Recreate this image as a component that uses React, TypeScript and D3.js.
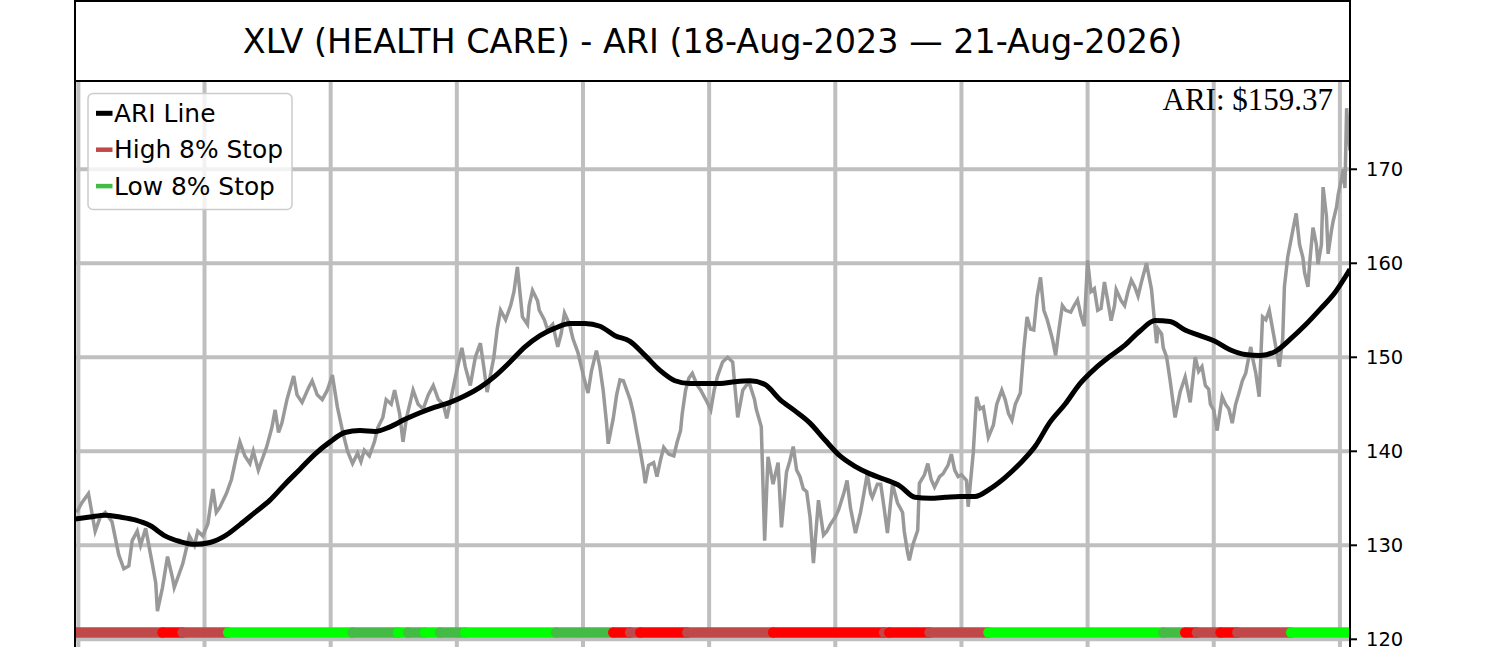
import * as d3 from 'd3';

// ---- data ----
const TITLE = 'XLV (HEALTH CARE) - ARI (18-Aug-2023 — 21-Aug-2026)';
const LAST_DAY = 758; // trading-day index of the last session
const ARI_LAST = 159.37;

const yTicks = [120, 130, 140, 150, 160, 170];
const xGridDays = [2, 77, 152, 227, 302, 377, 452, 527, 602, 677, 752];

// close prices (grey line): session index / value
const closeDays = [
  1, 4, 8, 12, 15, 18, 22, 26, 29, 32, 34, 37, 39, 42, 46, 48, 49, 52, 55, 58, 59, 64, 66, 68, 71, 73, 76, 79,
  82, 84, 86, 90, 93, 96, 98, 101, 104, 106, 109, 112, 114, 117, 119, 121, 123, 126, 130, 132, 135, 139, 141,
  144, 147, 150, 153, 156, 159, 162, 165, 168, 170, 172, 175, 178, 180, 183, 185, 188, 190, 193, 195, 197,
  201, 204, 207, 210, 213, 216, 219, 221, 224, 227, 230, 232, 235, 238, 241, 243, 245, 249, 251, 253, 256,
  259, 261, 263, 266, 269, 270, 272, 275, 276, 279, 281, 284, 287, 289, 291, 294, 296, 299, 301, 303, 305,
  307, 310, 312, 314, 316, 317, 320, 322, 324, 326, 328, 330, 332, 334, 336, 338, 339, 341, 344, 346, 348,
  350, 353, 356, 358, 360, 361, 363, 365, 367, 370, 372, 375, 378, 380, 382, 385, 388, 391, 394, 397, 399,
  401, 404, 405, 408, 410, 412, 415, 418, 420, 423, 425, 427, 429, 431, 433, 435, 437, 439, 442, 445, 447,
  449, 452, 454, 457, 459, 461, 464, 467, 469, 471, 473, 474, 477, 479, 481, 483, 486, 489, 492, 493, 495,
  496, 498, 501, 502, 505, 507, 509, 511, 514, 516, 519, 521, 523, 525, 527, 530, 531, 534, 536, 538, 540,
  543, 546, 548, 551, 553, 555, 557, 559, 562, 564, 566, 568, 570, 572, 574, 576, 578, 581, 583, 585, 587,
  589, 592, 594, 596, 598, 600, 602, 604, 606, 608, 610, 612, 614, 616, 618, 619, 622, 624, 626, 628, 630,
  632, 634, 637, 640, 643, 644, 646, 647, 649, 651, 654, 657, 660, 663, 666, 668, 670, 672, 674, 675, 677,
  679, 682, 684, 686, 688, 690, 692, 694, 696, 699, 700, 702, 704, 706, 708, 710, 712, 714, 716, 718, 719,
  721, 724, 726, 728, 730, 731, 733, 734, 736, 738, 739, 741, 742, 744, 745, 747, 748, 750, 751, 753, 754,
  755, 756, 757, 758,
];
const closeValues = [
  133.5, 134.5, 135.5, 131.5, 133, 133.5, 132.5, 129, 127.5, 127.8, 130.5, 131.5, 130, 131.8, 128, 126, 123,
  125.5, 128.8, 126.5, 125.5, 128, 129.5, 131, 130, 131.5, 131, 132.3, 136, 133.5, 134, 135.5, 137, 139.5,
  141, 139.5, 138.7, 140, 138, 139.5, 140.5, 142.5, 144.4, 142, 143, 145.5, 148, 146, 145.2, 146.8, 147.5,
  146, 145.5, 146.5, 148.1, 144.7, 142.2, 140, 138.7, 139.8, 138.9, 140.1, 139.5, 141, 142.5, 143.6, 145.5,
  145, 146.5, 144, 141, 143.5, 146.5, 145, 144.5, 146, 147, 145.5, 145, 143.5, 146, 148.6, 151, 149, 147,
  150, 151.5, 149, 146.3, 150, 153, 155, 154, 155.5, 157, 159.6, 154.3, 153.5, 155.5, 157.1, 156, 155, 154,
  152.9, 153.5, 151.1, 152.5, 154.7, 153.5, 152, 150.5, 149, 147.5, 146.2, 148.5, 150.7, 149, 146.5, 143,
  140.8, 143.5, 146, 147.6, 147.5, 146.5, 145.5, 144, 142, 140.1, 138, 136.6, 138.5, 138.8, 137.3, 139,
  140.4, 139.7, 139.5, 141, 142.2, 144, 146.5, 147.8, 148.3, 147, 146.5, 145.5, 144.4, 146.5, 148, 149.5,
  150, 149.5, 143.6, 146.5, 147, 147.2, 145.5, 144.5, 142.6, 130.5, 139.4, 136.5, 138.8, 131.9, 137.8, 139,
  140.5, 138, 137.3, 136, 135.7, 133, 128.1, 134.8, 131.1, 131.5, 132.2, 133, 133.8, 135.5, 136.9, 134,
  131.3, 133.5, 135.5, 137.6, 135.5, 135.1, 136.5, 136.5, 134, 131.3, 136.5, 134.5, 133.5, 131.5, 129.2,
  128.4, 130, 131.6, 136.6, 137.5, 138.7, 137, 136.2, 137.3, 137.6, 138.5, 139.7, 138, 137.3, 137.5, 136.9,
  134.1, 139.8, 145.8, 144.5, 144.7, 141.5, 142.8, 145, 146.5, 145.5, 144, 143.3, 145, 146.2, 150.7, 154.3,
  153, 152.9, 156.5, 158.5, 155, 154, 152, 150.2, 153, 155.5, 155, 154.8, 155.5, 156.1, 154.5, 153.3, 160.3,
  157, 157.3, 155, 155.2, 158, 156, 153.9, 155.5, 157.2, 156, 155.5, 157, 158.2, 157.5, 156.5, 158, 160,
  157.2, 151.5, 153, 152.5, 151, 150, 147.6, 143.6, 146.3, 147.9, 145.2, 150, 148.5, 149, 147, 146.6, 145,
  144.4, 142.2, 145.8, 145, 144.5, 143, 145, 146.2, 147.5, 148.3, 151.1, 150, 148.3, 145.8, 154.3, 154, 155,
  153, 151, 149, 152, 157.5, 160.7, 163.5, 165.3, 162, 160.6, 159, 157.5, 160, 163.8, 162, 159.9, 162, 168.1,
  165, 161, 163.5, 164.5, 166, 167.3, 169, 170, 168, 176.5, 174, 172,
];

// ARI line (black), evenly spaced from first to last session
const ariValues = [
  132.8, 133.0, 133.2, 133.0, 132.7, 132.1, 131.0, 130.4, 130.1, 130.3, 131.0, 132.2, 133.5, 134.8, 136.5,
  138.1, 139.7, 141.0, 142.0, 142.2, 142.1, 142.6, 143.4, 144.1, 144.7, 145.2, 145.9, 146.8, 148.0, 149.5,
  151.1, 152.3, 153.1, 153.6, 153.6, 153.3, 152.3, 151.7, 150.2, 148.6, 147.5, 147.2, 147.2, 147.2, 147.4,
  147.5, 147.1, 145.5, 144.3, 143.0, 141.2, 139.5, 138.4, 137.6, 137.0, 136.3, 135.1, 135.0, 135.1, 135.2,
  135.2, 136.0, 137.2, 138.7, 140.5, 143.1, 145.0, 147.2, 148.8, 150.1, 151.3, 152.8, 153.9, 153.8, 152.9,
  152.3, 151.7, 150.8, 150.3, 150.2, 150.6, 151.9, 153.4, 155.1, 156.9, ARI_LAST,
];

// stop-state strip along the bottom: run start session / state
const bandStarts = [0, 52, 64, 91, 165, 192, 198, 208, 217, 232, 286, 320, 330, 336, 364, 415, 481, 484, 508, 543, 647, 660, 667, 681, 691, 723];
const bandStates = [
  'high', 'highHit', 'high', 'lowHit', 'low', 'lowHit', 'low', 'lowHit', 'low', 'lowHit', 'low', 'highHit', 'high',
  'highHit', 'high', 'highHit', 'high', 'highHit', 'high', 'lowHit', 'low', 'highHit', 'high', 'highHit', 'high', 'lowHit',
];
const BAND_LEVEL = 120.72;

const legendLabels = ['ARI Line', 'High 8% Stop', 'Low 8% Stop'];

const stateColor: Record<string, string> = {
  high: '#c04848',
  highHit: '#ff0000',
  low: '#44bb44',
  lowHit: '#00ff00',
};
const legendColors = ['#000000', stateColor.high, stateColor.low];

const W = 1500;
const H = 647;
const plot = { left: 75, right: 1350, top: 81, bottom: 680 };
const SANS = '"DejaVu Sans", sans-serif';

export default function App() {
  const x = d3.scaleLinear().domain([0, LAST_DAY]).range([plot.left, plot.right]);
  const y = d3.scaleLinear().domain([115.67, 179.39]).range([plot.bottom, plot.top]);

  const closeLine = d3
    .line<number>()
    .x((_, i) => x(closeDays[i]))
    .y((d) => y(d));

  const ariStep = LAST_DAY / (ariValues.length - 1);
  const ariLine = d3
    .line<number>()
    .x((_, i) => x(i * ariStep))
    .y((d) => y(d))
    .curve(d3.curveMonotoneX);

  const visibleBottom = H;

  return (
    <svg width={W} height={H} style={{ position: 'absolute', left: 0, top: 0, background: '#fff' }}>
      <defs>
        <clipPath id="plotClip">
          <rect x={plot.left} y={plot.top} width={plot.right - plot.left} height={plot.bottom - plot.top} />
        </clipPath>
      </defs>

      {/* title box */}
      <rect x={plot.left} y={1} width={plot.right - plot.left} height={plot.top - 1} fill="#fff" stroke="#000" strokeWidth={2} />
      <text x={(plot.left + plot.right) / 2} y={53} textAnchor="middle" fontFamily={SANS} fontSize={33.4} fill="#000">
        {TITLE}
      </text>

      <g clipPath="url(#plotClip)">
        {/* grid */}
        {yTicks.map((t) => (
          <line key={'h' + t} x1={plot.left} x2={plot.right} y1={y(t)} y2={y(t)} stroke="#bfbfbf" strokeWidth={4} />
        ))}
        {xGridDays.map((d) => (
          <line key={'v' + d} x1={x(d)} x2={x(d)} y1={plot.top} y2={plot.bottom} stroke="#bfbfbf" strokeWidth={4} />
        ))}

        {/* close price */}
        <path d={closeLine(closeValues) ?? ''} fill="none" stroke="#999999" strokeWidth={3.5} strokeLinejoin="miter" />

        {/* ARI line */}
        <path d={ariLine(ariValues) ?? ''} fill="none" stroke="#000" strokeWidth={5} strokeLinejoin="round" />

        {/* stop-state strip */}
        {bandStarts.map((s, i) => {
          const e = i < bandStarts.length - 1 ? bandStarts[i + 1] : LAST_DAY;
          return (
            <line
              key={'b' + i}
              x1={x(s)}
              x2={x(e)}
              y1={y(BAND_LEVEL)}
              y2={y(BAND_LEVEL)}
              stroke={stateColor[bandStates[i]]}
              strokeWidth={10.4}
              strokeLinecap="round"
            />
          );
        })}
      </g>

      {/* spines */}
      <line x1={plot.left} x2={plot.left} y1={plot.top} y2={visibleBottom} stroke="#000" strokeWidth={2} />
      <line x1={plot.right} x2={plot.right} y1={plot.top} y2={visibleBottom} stroke="#000" strokeWidth={2} />
      <line x1={plot.left} x2={plot.right} y1={plot.top} y2={plot.top} stroke="#000" strokeWidth={2} />

      {/* right y axis */}
      {yTicks.map((t) => (
        <g key={'t' + t}>
          <line x1={plot.right} x2={plot.right + 7} y1={y(t)} y2={y(t)} stroke="#000" strokeWidth={2} />
          <text x={plot.right + 16} y={y(t)} dominantBaseline="central" fontFamily={SANS} fontSize={19.5} fill="#000">
            {t}
          </text>
        </g>
      ))}

      {/* last ARI value */}
      <text x={1333} y={110} textAnchor="end" fontFamily='"Liberation Serif", serif' fontSize={31} fill="#000">
        {`ARI: $${ARI_LAST.toFixed(2)}`}
      </text>

      {/* legend */}
      <g>
        <rect x={88} y={93.5} width={204} height={116} rx={5} fill="#fff" fillOpacity={0.8} stroke="#cccccc" strokeWidth={1.5} />
        {legendLabels.map((label, i) => {
          const cy = 113.3 + i * 36.4;
          return (
            <g key={label}>
              <line x1={96} x2={112.5} y1={cy} y2={cy} stroke={legendColors[i]} strokeWidth={i === 0 ? 5 : 4.5} />
              <text x={114} y={cy} dominantBaseline="central" fontFamily={SANS} fontSize={24.9} fill="#000">
                {label}
              </text>
            </g>
          );
        })}
      </g>
    </svg>
  );
}
